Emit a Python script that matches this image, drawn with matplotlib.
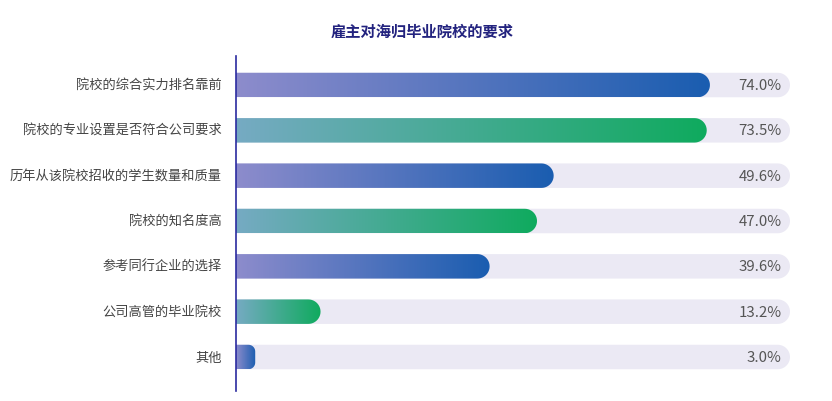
import numpy as np
import matplotlib.pyplot as plt
from matplotlib.path import Path
from matplotlib.patches import PathPatch
from matplotlib.colors import LinearSegmentedColormap

plt.rcParams['font.family'] = ['Noto Sans CJK SC', 'DejaVu Sans']

categories = ['院校的综合实力排名靠前', '院校的专业设置是否符合公司要求', '历年从该院校招收的学生数量和质量',
              '院校的知名度高', '参考同行企业的选择', '公司高管的毕业院校', '其他']
values = [74.0, 73.5, 49.6, 47.0, 39.6, 13.2, 3.0]
labels = ['74.0%', '73.5%', '49.6%', '47.0%', '39.6%', '13.2%', '3.0%']

W, H = 832, 402
fig = plt.figure(figsize=(W / 100, H / 100), dpi=100)
ax = fig.add_axes([236 / W, 1 - 392 / H, (790 - 236) / W, 335 / H])

xmax = 86.5
bh = 0.54

px_x = (790 - 236) / xmax   # pixels per x unit
px_y = 335 / (6.75 + 0.64)  # pixels per y unit

purple = LinearSegmentedColormap.from_list('p', ['#8d8ccc', '#1a5db0'])
green = LinearSegmentedColormap.from_list('g', ['#76aac3', '#0fab5e'])


def bar_path(y, length):
    # square left end, rounded right end
    r_px = min(bh * px_y / 2, length * px_x * 0.35)
    rx = r_px / px_x
    ry = r_px / px_y
    top, bot = y - bh / 2, y + bh / 2
    pts = [(0, bot), (length - rx, bot)]
    for a in np.linspace(np.pi / 2, 0, 12):
        pts.append((length - rx + rx * np.cos(a), bot - ry + ry * np.sin(a)))
    pts.append((length, top + ry))
    for a in np.linspace(0, -np.pi / 2, 12):
        pts.append((length - rx + rx * np.cos(a), top + ry + ry * np.sin(a)))
    pts.append((0, top))
    pts.append((0, bot))
    codes = [Path.MOVETO] + [Path.LINETO] * (len(pts) - 2) + [Path.CLOSEPOLY]
    return Path(pts, codes)


grad = np.linspace(0, 1, 256).reshape(1, -1)
for i, v in enumerate(values):
    track = PathPatch(bar_path(i, xmax), facecolor='#ebe9f4', edgecolor='none', zorder=1)
    ax.add_patch(track)
    p = PathPatch(bar_path(i, v), facecolor='none', edgecolor='none', zorder=2)
    ax.add_patch(p)
    cmap = purple if i % 2 == 0 else green
    im = ax.imshow(grad, cmap=cmap, aspect='auto', extent=(0, v, i + bh / 2, i - bh / 2),
                   zorder=2, interpolation='bilinear')
    im.set_clip_path(p)
    ax.text(xmax - 1.3, i, labels[i], ha='right', va='center', fontsize=10.8, color='#555555', zorder=3)
    ax.text(-14 / px_x, i, categories[i], ha='right', va='center', fontsize=9.5, color='#444444')

ax.set_xlim(0, xmax)
ax.set_ylim(6.75, -0.64)
for s in ['top', 'right', 'bottom']:
    ax.spines[s].set_visible(False)
ax.spines['left'].set_color('#2b2ba0')
ax.spines['left'].set_linewidth(1.2)
ax.spines['left'].set_zorder(4)
ax.set_xticks([])
ax.set_yticks([])

fig.text(422 / W, 1 - 32 / H, '雇主对海归毕业院校的要求', ha='center', va='center',
         fontsize=11, fontweight='bold', color='#23237f')

fig.savefig('out.png', dpi=100)
